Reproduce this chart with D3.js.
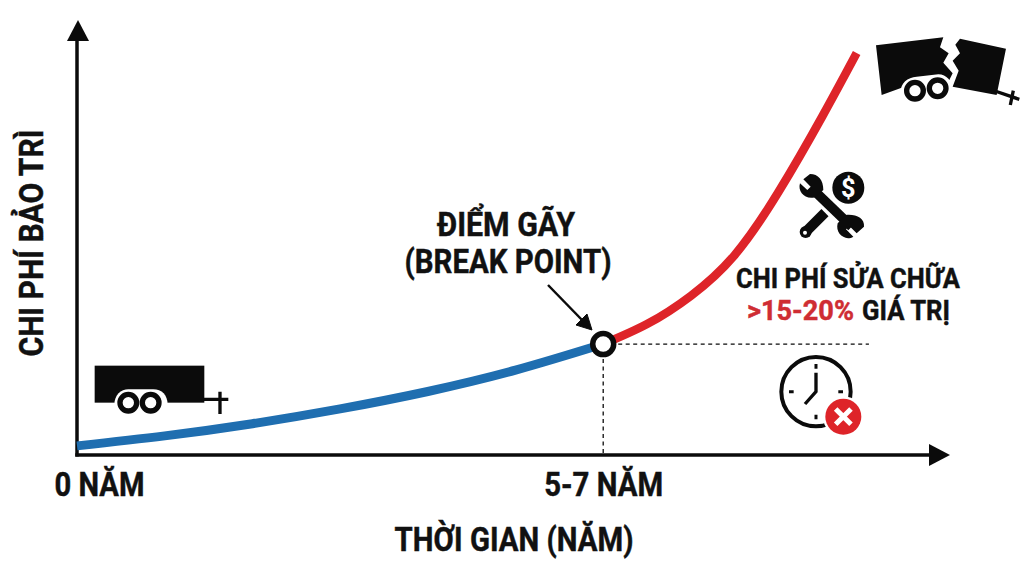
<!DOCTYPE html>
<html><head><meta charset="utf-8">
<script src="https://cdn.jsdelivr.net/npm/d3@7"></script>
<style>html,body{margin:0;background:#fff}svg{display:block}text{font-family:Roboto,"Liberation Sans",sans-serif;font-weight:700;fill:#111;stroke:#111;stroke-width:.45px}</style>
</head><body><svg id="c" width="1024" height="576"></svg>
<script>
const blueYears=[0,1,2,3,4,5,6];
const blueCost=[2.1,4.4,7.2,10.6,14.6,19.5,25.5];
const redYears=[6,6.5,7,7.5,8,8.5,8.89];
const redCost=[25.5,30.1,36.6,46,60.5,77.9,92.4];
const breakYear=6, breakCost=25.5, dashEndYear=9.03;
const tickYears=[0,6];
const tickLabels=["0 NĂM","5-7 NĂM"];
const xTitle="THỜI GIAN (NĂM)", yTitle="CHI PHÍ BẢO TRÌ";

const svg=d3.select("#c");
const x=d3.scaleLinear([0,10],[77,954]);
const y=d3.scaleLinear([0,100],[455,20]);
const black="#0b0b0b", red="#de2429", blue="#1f6eb0";

function label(t,cx,base,w,size,fill){
  return svg.append("text").attr("x",cx).attr("y",base).attr("text-anchor","middle")
   .attr("font-size",size).attr("textLength",w).attr("lengthAdjust","spacingAndGlyphs")
   .style("fill",fill||"#111").style("stroke",fill||"#111").text(t);
}

// dashed guides
svg.append("line").attr("x1",x(breakYear)).attr("x2",x(breakYear)).attr("y1",y(breakCost)).attr("y2",y(0))
  .attr("stroke",black).attr("stroke-width",1.3).attr("stroke-dasharray","4 3.5");
svg.append("line").attr("x1",x(breakYear)).attr("x2",x(dashEndYear)).attr("y1",y(breakCost)).attr("y2",y(breakCost))
  .attr("stroke",black).attr("stroke-width",1.3).attr("stroke-dasharray","4 3.5");

// axes
const xAxis=d3.axisBottom(x).tickValues(tickYears).tickFormat((d,i)=>tickLabels[i]).tickSize(0);
const ax=svg.append("g").attr("transform",`translate(0,${y(0)})`).call(xAxis);
ax.select(".domain").remove();
ax.selectAll("text").attr("font-size",33).attr("y",0).attr("dy",0)
  .attr("transform",(d,i)=>`translate(${i==0?22:0},41)`)
  .attr("textLength",(d,i)=>i==0?90:119).attr("lengthAdjust","spacingAndGlyphs").style("fill","#111");
const ay=svg.append("g").attr("transform",`translate(${x(0)},0)`).call(d3.axisLeft(y).tickValues([]).tickSize(0));
ay.select(".domain").attr("d",`M0,${y(0)+1.5}V${y(96)}`).attr("stroke",black).attr("stroke-width",3.5).attr("fill","none");
svg.append("line").attr("x1",x(0)-1.7).attr("x2",x(9.75)).attr("y1",y(0)).attr("y2",y(0)).attr("stroke",black).attr("stroke-width",3.5);
svg.append("path").attr("d",`M${x(0)+1},${y(100)}l-11,21h22z`).attr("fill",black);
svg.append("path").attr("d",`M${x(10)-4},${y(0)}l-21,-11v22z`).attr("fill",black);

// curves
const line=d3.line().x(d=>x(d[0])).y(d=>y(d[1])).curve(d3.curveNatural);
svg.append("path").attr("d",line(d3.zip(blueYears,blueCost))).attr("fill","none").attr("stroke",blue).attr("stroke-width",9);
svg.append("path").attr("d",line(d3.zip(redYears,redCost))).attr("fill","none").attr("stroke",red).attr("stroke-width",8.5);
svg.append("circle").attr("cx",x(breakYear)).attr("cy",y(breakCost)).attr("r",10.5).attr("fill","#fff").attr("stroke",black).attr("stroke-width",5.5);

// callout arrow
svg.append("line").attr("x1",548).attr("y1",285).attr("x2",583).attr("y2",321).attr("stroke",black).attr("stroke-width",2.5);
svg.append("path").attr("d","M592,330L576,325L587,314Z").attr("fill",black).attr("stroke",black).attr("stroke-width",1);

// texts
label("ĐIỂM GÃY",506,236,138,33);
label("(BREAK POINT)",508,273,207,33);
label(xTitle,514,551,239,33);
svg.append("text").attr("transform","translate(43,243) rotate(-90)").attr("text-anchor","middle")
  .attr("font-size",33).attr("textLength",227).attr("lengthAdjust","spacingAndGlyphs").text(yTitle);
label("CHI PHÍ SỬA CHỮA",848,288,224,28);
label(">15-20%",800.5,320,107,28,"#cf2d33");
label("GIÁ TRỊ",906,320,88,28);

// intact trailer
const t1=svg.append("g").attr("transform","translate(60,350) scale(.3333)");
t1.append("rect").attr("x",104).attr("y",47).attr("width",329).attr("height",111).attr("fill",black);
t1.append("path").attr("d","M430,148H505M480,125V192").attr("stroke",black).attr("stroke-width",10).attr("fill","none");
t1.append("path").attr("d","M163,165C163,135 183,118 205,118H280C305,118 323,135 323,165V200H163Z").attr("fill","#fff");
[205,272].forEach(cx=>t1.append("circle").attr("cx",cx).attr("cy",158).attr("r",25).attr("fill","#fff").attr("stroke",black).attr("stroke-width",16));

// broken trailer
const t2=svg.append("g").attr("transform","translate(770,20) scale(.3333)");
t2.append("path").attr("fill",black).attr("d","M318,76L520,52L510,82L536,100L520,128L548,160L538,180L395,203L335,225Z");
t2.append("path").attr("fill",black).attr("d","M570,56L708,86L680,225L548,200L566,152L548,122L570,100L556,74Z");
t2.append("path").attr("d","M675,213L748,238M730,212L721,255").attr("stroke",black).attr("stroke-width",10).attr("fill","none");
t2.append("path").attr("fill","#fff").attr("d","M392,215C392,190 412,172 440,170L505,163C530,163 547,185 547,205L520,255H400Z");
[[435,212],[503,205]].forEach(c=>t2.append("circle").attr("cx",c[0]).attr("cy",c[1]).attr("r",25).attr("fill","#fff").attr("stroke",black).attr("stroke-width",16));

// tools icon
const t3=svg.append("g").attr("transform","translate(770,20) scale(.3333)");
t3.append("line").attr("x1",165).attr("y1",578).attr("x2",105).attr("y2",638).attr("stroke",black).attr("stroke-width",30);
t3.append("circle").attr("cx",107).attr("cy",636).attr("r",18).attr("fill",black);
t3.append("circle").attr("cx",105).attr("cy",638).attr("r",6).attr("fill","#fff");
t3.append("line").attr("x1",125).attr("y1",505).attr("x2",245).attr("y2",620).attr("stroke","#fff").attr("stroke-width",42);
t3.append("circle").attr("cx",235).attr("cy",503).attr("r",48).attr("fill",black);
t3.append("text").attr("x",235).attr("y",530).attr("text-anchor","middle").attr("font-size",76).style("fill","#fff").style("stroke","none").text("$");
t3.append("line").attr("x1",125).attr("y1",505).attr("x2",245).attr("y2",620).attr("stroke",black).attr("stroke-width",29);
t3.append("path").attr("fill",black).attr("d","M120,462L100,478L122,500L112,510L90,490C82,515 105,540 135,532L160,510C160,480 145,462 120,462Z");
t3.append("path").attr("fill",black).attr("d","M282,620L260,640L238,618L228,628L250,650C225,665 195,640 203,610L228,585C258,582 285,595 282,620Z");

// clock icon
const t4=svg.append("g").attr("transform","translate(720,250) scale(.3333)");
t4.append("circle").attr("cx",288).attr("cy",425).attr("r",104).attr("fill","#fff").attr("stroke",black).attr("stroke-width",12);
t4.append("path").attr("d","M288,368V425L255,462").attr("fill","none").attr("stroke",black).attr("stroke-width",10);
t4.append("path").attr("d","M288,342V356M288,494V508M207,425H221M355,425H369").attr("stroke",black).attr("stroke-width",9);
t4.append("circle").attr("cx",370).attr("cy",500).attr("r",61).attr("fill","#fff");
t4.append("circle").attr("cx",370).attr("cy",500).attr("r",54).attr("fill",red);
t4.append("path").attr("d","M347,477L393,523M393,477L347,523").attr("stroke","#fff").attr("stroke-width",15);
</script></body></html>
